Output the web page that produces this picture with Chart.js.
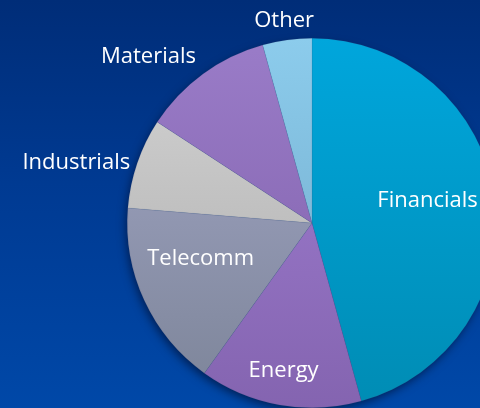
<!DOCTYPE html>
<html>
<head>
<meta charset="utf-8">
<script src="https://cdn.jsdelivr.net/npm/chart.js@4/dist/chart.umd.min.js"></script>
<style>
  html, body { margin: 0; padding: 0; width: 480px; height: 408px; overflow: hidden; }
  body { background: linear-gradient(to bottom, #002d78 0%, #003a92 45%, #0048a8 100%); position: relative; }
  #wrap { position: absolute; left: 0; top: 0; width: 624px; height: 446px; }
</style>
</head>
<body>
<div id="wrap"><canvas id="c" width="624" height="446"></canvas></div>
<script>
const categories = ["Financials", "Energy", "Telecomm", "Industrials", "Materials", "Other"];
const shares = [45.7, 14.2, 16.4, 7.9, 11.5, 4.3];

const topColors    = ["#00a6dc", "#a280d4", "#a4a8c8", "#d4d4d4", "#9a7cc8", "#8cccec"];
const bottomColors = ["#008cb4", "#8464b0", "#7c8498", "#aaaaaa", "#7e5ea8", "#6fa6c6"];

// label placement: [angle offset in degrees, radius factor]
const labelPlace = [[-4.5, 0.64], [1, 0.80], [8, 0.63], [-4, 1.32], [-8, 1.27], [0, 1.12]];

function sliceFill(ctx) {
  const chart = ctx.chart;
  const area = chart.chartArea;
  if (!area) return topColors[ctx.dataIndex];
  const g = chart.ctx.createLinearGradient(0, area.top, 0, area.bottom);
  g.addColorStop(0, topColors[ctx.dataIndex]);
  g.addColorStop(1, bottomColors[ctx.dataIndex]);
  return g;
}

const shadowPlugin = {
  id: 'pieShadow',
  beforeDatasetsDraw(chart) {
    const arc = chart.getDatasetMeta(0).data[0];
    if (!arc) return;
    const c = chart.ctx;
    c.save();
    c.shadowColor = 'rgba(0,0,20,0.55)';
    c.shadowBlur = 10;
    c.shadowOffsetX = -2;
    c.shadowOffsetY = 4;
    c.fillStyle = '#0a3f8a';
    c.beginPath();
    c.arc(arc.x, arc.y, arc.outerRadius - 1, 0, Math.PI * 2);
    c.fill();
    c.restore();
  }
};

const labelPlugin = {
  id: 'sliceLabels',
  afterDatasetsDraw(chart) {
    const meta = chart.getDatasetMeta(0);
    const c = chart.ctx;
    c.save();
    c.font = '22px "Open Sans"';
    c.fillStyle = '#ffffff';
    c.textAlign = 'center';
    c.textBaseline = 'middle';
    meta.data.forEach((arc, i) => {
      const mid = (arc.startAngle + arc.endAngle) / 2 + labelPlace[i][0] * Math.PI / 180;
      const r = arc.outerRadius * labelPlace[i][1];
      const x = arc.x + Math.cos(mid) * r;
      const y = arc.y + Math.sin(mid) * r + 2.5;
      c.fillText(categories[i], x, y);
    });
    c.restore();
  }
};

new Chart(document.getElementById('c'), {
  type: 'pie',
  data: {
    labels: categories,
    datasets: [{
      data: shares,
      backgroundColor: sliceFill,
      borderColor: 'rgba(70,80,120,0.25)',
      borderWidth: 0.5
    }]
  },
  options: {
    responsive: false,
    animation: false,
    layout: { padding: { top: 38, bottom: 38, left: 0, right: 0 } },
    plugins: { legend: { display: false }, tooltip: { enabled: false } }
  },
  plugins: [shadowPlugin, labelPlugin]
});
</script>
</body>
</html>
